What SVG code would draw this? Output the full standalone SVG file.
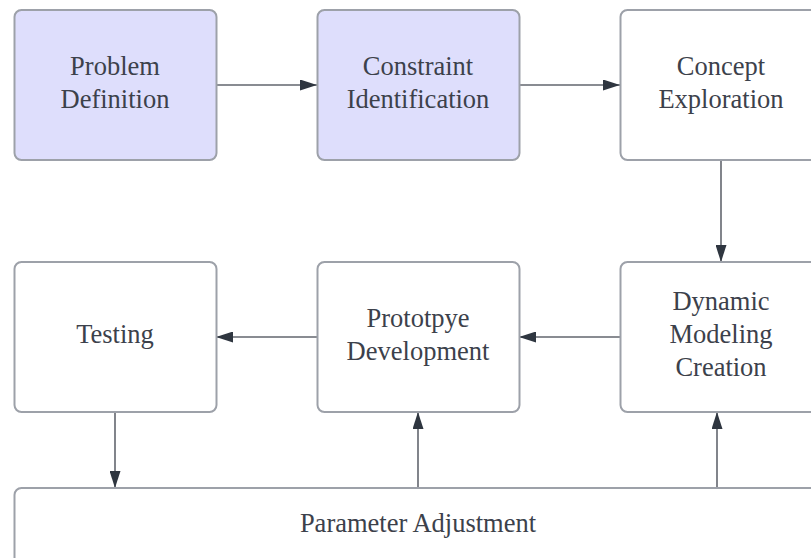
<svg xmlns="http://www.w3.org/2000/svg" width="811" height="558" viewBox="0 0 811 558">
<defs>
<style>
.box{fill:#ffffff;stroke:#9da1a9;stroke-width:2}
.hl{fill:#dedefc}
.t{font-family:"Liberation Serif","DejaVu Serif",serif;font-size:26.5px;fill:#3c414b;text-anchor:middle}
.c{fill:none;stroke:#62666e;stroke-width:1.6}
</style>
<marker id="ah" viewBox="0 0 17 11" refX="17" refY="5.5" markerWidth="17" markerHeight="11" markerUnits="userSpaceOnUse" orient="auto">
<path d="M0,0 L17,5.5 L0,11 Z" fill="#2f3640"/>
</marker>
</defs>
<rect width="811" height="558" fill="#ffffff"/>
<g id="connectors">
<path class="c" d="M216,85 H317" marker-end="url(#ah)"/>
<path class="c" d="M519,85 H620" marker-end="url(#ah)"/>
<path class="c" d="M721,160 V262" marker-end="url(#ah)"/>
<path class="c" d="M620,337 H519" marker-end="url(#ah)"/>
<path class="c" d="M317,337 H216" marker-end="url(#ah)"/>
<path class="c" d="M115,412 V488" marker-end="url(#ah)"/>
<path class="c" d="M418,488 V412" marker-end="url(#ah)"/>
<path class="c" d="M717,488 V412" marker-end="url(#ah)"/>
</g>
<g id="problem-definition">
<rect class="box hl" x="14.5" y="10" width="202" height="150" rx="7"/>
<text class="t" x="115" y="74.5">Problem</text>
<text class="t" x="115" y="107.5">Definition</text>
</g>
<g id="constraint-identification">
<rect class="box hl" x="317.5" y="10" width="202" height="150" rx="7"/>
<text class="t" x="418" y="74.5">Constraint</text>
<text class="t" x="418" y="107.5">Identification</text>
</g>
<g id="concept-exploration">
<rect class="box" x="620.5" y="10" width="202" height="150" rx="7"/>
<text class="t" x="721" y="74.5">Concept</text>
<text class="t" x="721" y="107.5">Exploration</text>
</g>
<g id="testing">
<rect class="box" x="14.5" y="262" width="202" height="150" rx="7"/>
<text class="t" x="115" y="343">Testing</text>
</g>
<g id="prototype-development">
<rect class="box" x="317.5" y="262" width="202" height="150" rx="7"/>
<text class="t" x="418" y="326.5">Prototpye</text>
<text class="t" x="418" y="359.5">Development</text>
</g>
<g id="dynamic-modeling-creation">
<rect class="box" x="620.5" y="262" width="202" height="150" rx="7"/>
<text class="t" x="721" y="310">Dynamic</text>
<text class="t" x="721" y="343">Modeling</text>
<text class="t" x="721" y="376">Creation</text>
</g>
<g id="parameter-adjustment">
<rect class="box" x="14.5" y="488" width="807" height="90" rx="7"/>
<text class="t" x="418" y="532">Parameter Adjustment</text>
</g>
</svg>
